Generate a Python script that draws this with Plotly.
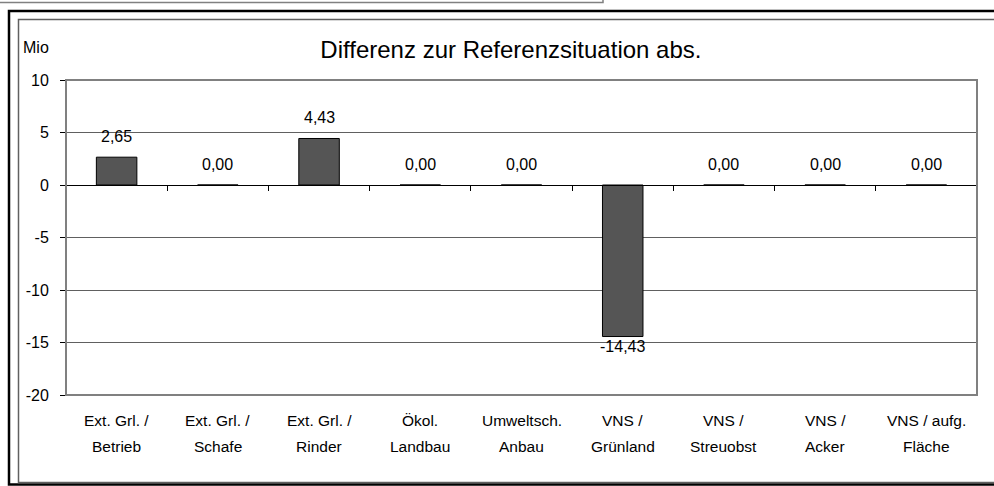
import plotly.graph_objects as go

# data
categories = ["Ext. Grl. / Betrieb", "Ext. Grl. / Schafe", "Ext. Grl. / Rinder", "Ökol. Landbau",
              "Umweltsch. Anbau", "VNS / Grünland", "VNS / Streuobst", "VNS / Acker", "VNS / aufg. Fläche"]
label_line1 = ["Ext. Grl. /", "Ext. Grl. /", "Ext. Grl. /", "Ökol.", "Umweltsch.",
               "VNS /", "VNS /", "VNS /", "VNS / aufg."]
label_line2 = ["Betrieb", "Schafe", "Rinder", "Landbau", "Anbau",
               "Grünland", "Streuobst", "Acker", "Fläche"]
values = [2.65, 0.00, 4.43, 0.00, 0.00, -14.43, 0.00, 0.00, 0.00]
y_ticks = [10, 5, 0, -5, -10, -15, -20]

W, H = 994, 486
L, R, T, B = 66, 17, 80, 91
ymin, ymax = -20, 10
FONT = "Liberation Sans, Arial, sans-serif"

def px(x):
    return (x - L) / (W - L - R)

def py(y):
    return 1 - (y - T) / (H - T - B)

fig = go.Figure()

fig.add_trace(go.Bar(
    x=categories, y=values,
    marker=dict(color="#555555", line=dict(color="#000000", width=1)),
    width=0.4,
    showlegend=False,
    hoverinfo="x+y",
))

# value labels
for c, v in zip(categories, values):
    fig.add_annotation(
        x=c, y=v, xref="x", yref="y",
        text=f"{v:.2f}".replace(".", ","),
        showarrow=False, yanchor="middle",
        yshift=21 if v >= 0 else -10,
        font=dict(size=16, color="black", family=FONT),
    )

# two-line category labels
for c, l1, l2 in zip(categories, label_line1, label_line2):
    fig.add_annotation(x=c, y=0, xref="x", yref="paper", text=l1, showarrow=False,
                       yanchor="middle", yshift=-25, font=dict(size=15.5, color="black", family=FONT))
    fig.add_annotation(x=c, y=0, xref="x", yref="paper", text=l2, showarrow=False,
                       yanchor="middle", yshift=-51, font=dict(size=15.5, color="black", family=FONT))

fig.add_annotation(x=px(21), y=py(48), xref="paper", yref="paper", text="Mio", showarrow=False,
                   xanchor="left", yanchor="middle", font=dict(size=16, color="black", family=FONT))

# frames
shapes = [
    dict(type="rect", xref="paper", yref="paper", x0=0, x1=1, y0=0, y1=1,
         line=dict(color="#808080", width=2)),
    dict(type="rect", xref="paper", yref="paper", x0=px(9), x1=px(1005), y0=py(11), y1=py(484.5),
         line=dict(color="black", width=2.5)),
    dict(type="rect", xref="paper", yref="paper", x0=px(18.5), x1=px(1005), y0=py(19.5), y1=py(482.5),
         line=dict(color="#606060", width=1.5)),
    dict(type="rect", xref="paper", yref="paper", x0=px(-5), x1=px(603), y0=py(-5), y1=py(2.5),
         line=dict(color="#808080", width=1.5)),
]

fig.update_layout(
    width=W, height=H,
    margin=dict(l=L, r=R, t=T, b=B),
    paper_bgcolor="white", plot_bgcolor="white",
    separators=",.",
    shapes=shapes,
    title=dict(text="Differenz zur Referenzsituation abs.", x=0.514, xref="container",
               y=1 - 50 / H, yref="container", xanchor="center", yanchor="middle",
               font=dict(size=24, color="black", family=FONT)),
    font=dict(family=FONT, color="black"),
    bargap=0.6,
)

fig.update_xaxes(
    type="category", categoryorder="array", categoryarray=categories,
    anchor="free", position=(0 - ymin) / (ymax - ymin),
    showline=True, linecolor="black", linewidth=1,
    ticks="outside", tickson="boundaries", ticklen=5, tickcolor="black",
    showticklabels=False, showgrid=False, zeroline=False,
)
fig.update_yaxes(
    range=[ymin, ymax], tickvals=y_ticks, ticktext=[str(t) for t in y_ticks],
    showline=True, linecolor="black", linewidth=1,
    ticks="outside", ticklen=5, tickcolor="black",
    showgrid=True, gridcolor="#606060", gridwidth=1,
    zeroline=False,
    tickfont=dict(size=16, color="black", family=FONT),
    ticklabelstandoff=8,
)

fig.write_html("out.html", config={"displayModeBar": False},
               post_script="document.body.style.margin='0';")
